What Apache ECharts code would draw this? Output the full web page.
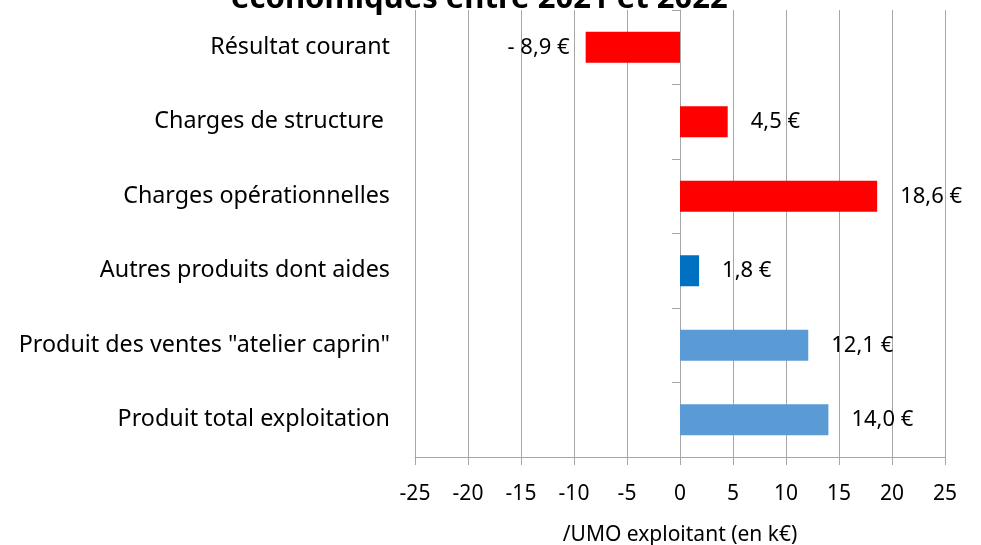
<!DOCTYPE html>
<html>
<head>
<meta charset="utf-8">
<script src="https://cdn.jsdelivr.net/npm/echarts@6/dist/echarts.min.js"></script>
<style>
    html, body { margin: 0; padding: 0; background: #fff; }
    #chart-1 { width: 981px; height: 545px; }
</style>
</head>
<body>
<div id="chart-1"></div>
<script>
/************************        Résultats économiques 2021 / 2022        **************************/

// bottom row first (category axis runs upward)
var categories = [
    'Produit total exploitation',
    'Produit des ventes "atelier caprin"',
    'Autres produits dont aides',
    'Charges opérationnelles',
    'Charges de structure ',
    'Résultat courant'
];
var values = [14.0, 12.1, 1.8, 18.6, 4.5, -8.9];
var barColors = ['#5B9BD5', '#5B9BD5', '#0070C0', '#FF0000', '#FF0000', '#FF0000'];
var xTicks = [-25, 25, 5];   // min, max, interval

var font = 'Noto Sans';

function euro(v) {
    var s = Math.abs(v).toFixed(1).replace('.', ',') + ' €';
    return v < 0 ? '- ' + s : s;
}

var dom = document.getElementById("chart-1");
var myChart = echarts.init(dom);
var option = {
    animation: false,
    title: {
        text: 'économiques entre 2021 et 2022',
        left: 226,
        top: -21,
        textStyle: {fontFamily: font, fontWeight: 'bold', fontSize: 31, color: '#000'}
    },
    grid: {
        left: 415,
        right: 36,
        top: 10,
        bottom: 88,
        outerBoundsMode: 'none'
    },
    xAxis: {
        type: 'value',
        min: xTicks[0],
        max: xTicks[1],
        interval: xTicks[2],
        name: '/UMO exploitant (en k€)',
        nameLocation: 'middle',
        nameGap: 68,
        nameTextStyle: {fontFamily: font, fontSize: 21, color: '#000'},
        axisLine: {show: true, lineStyle: {color: '#A6A6A6'}},
        axisTick: {show: true, length: 8, lineStyle: {color: '#A6A6A6'}},
        axisLabel: {fontFamily: font, fontSize: 21, color: '#000', margin: 27},
        splitLine: {show: true, lineStyle: {color: '#A6A6A6'}}
    },
    yAxis: [
        {
            type: 'category',
            data: categories,
            position: 'left',
            axisLine: {show: false, onZero: false},
            axisTick: {show: false},
            axisLabel: {fontFamily: font, fontSize: 23.3, color: '#000', margin: 25}
        },
        {
            type: 'category',
            data: categories,
            position: 'left',
            axisLine: {show: true, onZero: true, lineStyle: {color: '#A6A6A6'}},
            axisTick: {show: true, length: 8, lineStyle: {color: '#A6A6A6'}},
            axisLabel: {show: false}
        }
    ],
    series: [
        {
            type: 'bar',
            yAxisIndex: 0,
            barWidth: 31,
            data: values.map(function (v, i) {
                return {
                    value: v,
                    itemStyle: {color: barColors[i]},
                    label: {position: v < 0 ? 'left' : 'right', distance: v < 0 ? 16 : 23}
                };
            }),
            label: {
                show: true,
                fontFamily: font,
                fontSize: 22,
                color: '#000',
                formatter: function (p) { return euro(p.value); }
            }
        }
    ]
};

myChart.setOption(option);
</script>
</body>
</html>
